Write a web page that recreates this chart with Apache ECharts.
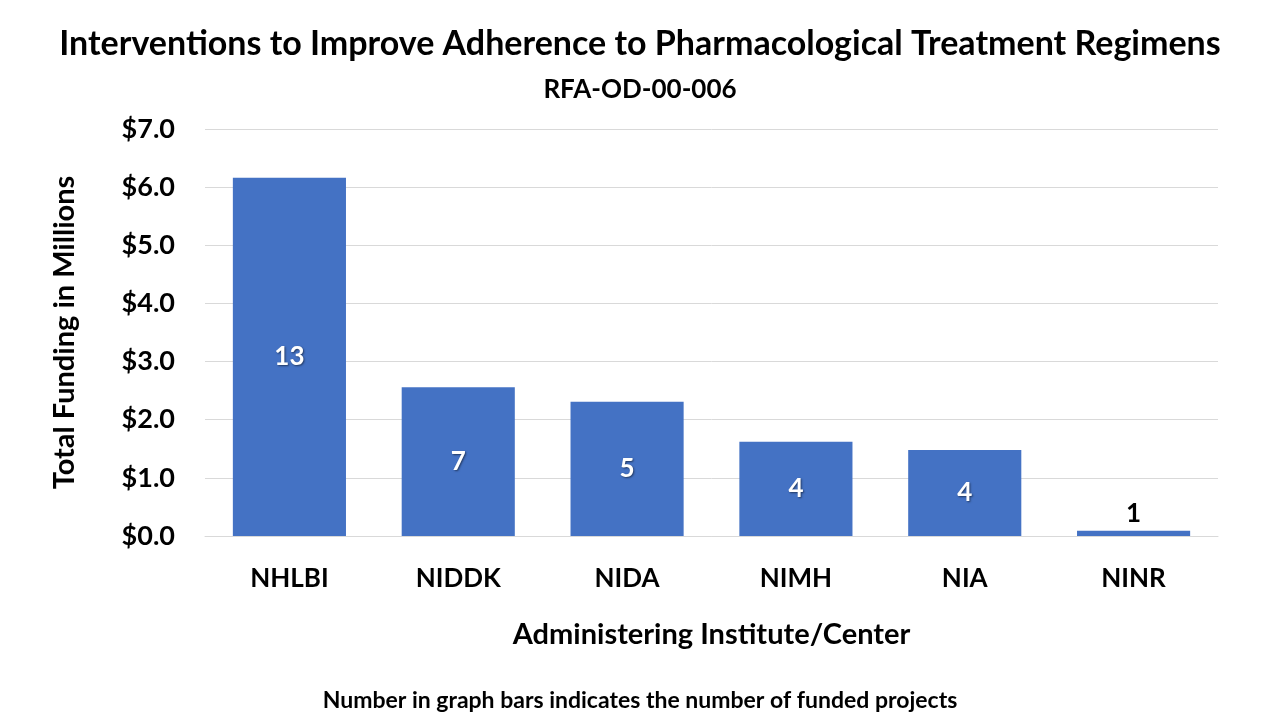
<!DOCTYPE html>
<html>
<head>
<meta charset="utf-8">
<script src="https://cdn.jsdelivr.net/npm/echarts@6/dist/echarts.min.js"></script>
<style>html,body{margin:0;padding:0;background:#fff}#c{width:1280px;height:720px}</style>
</head>
<body>
<div id="c"></div>
<script>
const categories = ['NHLBI', 'NIDDK', 'NIDA', 'NIMH', 'NIA', 'NINR'];
const funding = [6.16, 2.56, 2.31, 1.62, 1.48, 0.09];
const projects = [13, 7, 5, 4, 4, 1];

const FONT = 'Lato';
const chart = echarts.init(document.getElementById('c'));
const data = funding.map((v, i) => {
  const d = { value: v, projects: projects[i] };
  if (v < 0.5) {
    d.label = { position: 'top', color: '#000', textShadowBlur: 0, textShadowOffsetX: 0, textShadowOffsetY: 0, distance: 4 };
  }
  return d;
});
chart.setOption({
  animation: false,
  backgroundColor: '#fff',
  title: [
    { text: 'Interventions to Improve Adherence to Pharmacological Treatment Regimens', left: 'center', top: 22,
      textStyle: { fontFamily: FONT, fontWeight: 'bold', fontSize: 34, color: '#000' } },
    { text: 'RFA-OD-00-006', left: 'center', top: 72,
      textStyle: { fontFamily: FONT, fontWeight: 'bold', fontSize: 26, color: '#000' } },
    { text: 'Number in graph bars indicates the number of funded projects', left: 'center', top: 684,
      textStyle: { fontFamily: FONT, fontWeight: 'bold', fontSize: 23, color: '#000' } }
  ],
  grid: { left: 205, right: 62, top: 129, bottom: 184 },
  xAxis: {
    type: 'category', data: categories,
    name: 'Administering Institute/Center', nameLocation: 'middle', nameGap: 84,
    nameTextStyle: { fontFamily: FONT, fontWeight: 'bold', fontSize: 29, color: '#000' },
    axisLine: { lineStyle: { color: '#D9D9D9', width: 1 } },
    axisTick: { show: false },
    axisLabel: { fontFamily: FONT, fontWeight: 'bold', fontSize: 26, color: '#000', margin: 30 }
  },
  yAxis: {
    type: 'value', min: 0, max: 7, interval: 1,
    name: 'Total Funding in Millions', nameLocation: 'middle', nameGap: 126,
    nameTextStyle: { fontFamily: FONT, fontWeight: 'bold', fontSize: 29, color: '#000' },
    axisLine: { show: false }, axisTick: { show: false },
    splitLine: { lineStyle: { color: '#D9D9D9', width: 1 } },
    axisLabel: { fontFamily: FONT, fontWeight: 'bold', fontSize: 27, color: '#000', margin: 30,
      formatter: v => '$' + v.toFixed(1) }
  },
  series: [{
    type: 'bar', data: data, barCategoryGap: '33%',
    itemStyle: { color: '#4472C4' },
    label: {
      show: true, position: 'inside', color: '#fff',
      fontFamily: FONT, fontWeight: 'bold', fontSize: 26,
      textShadowColor: 'rgba(0,0,0,0.5)', textShadowBlur: 2, textShadowOffsetX: 1, textShadowOffsetY: 1,
      formatter: p => String(p.data.projects)
    }
  }]
});
</script>
</body>
</html>
